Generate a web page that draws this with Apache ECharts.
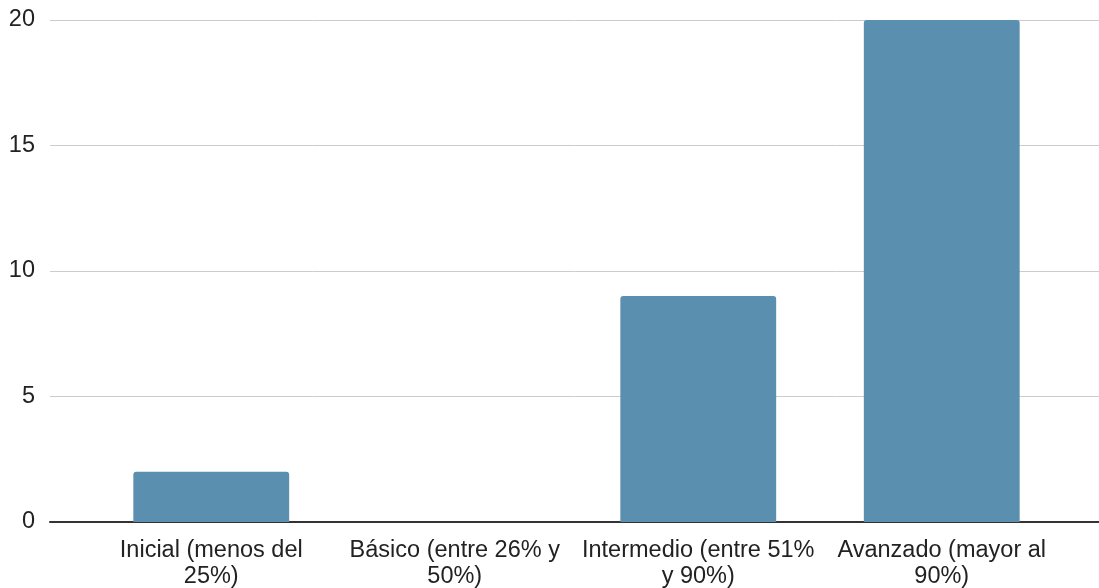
<!DOCTYPE html>
<html>
<head>
<meta charset="utf-8">
<script src="https://cdn.jsdelivr.net/npm/echarts@6/dist/echarts.min.js"></script>
<style>
  html, body { margin: 0; padding: 0; background: #fff; }
  #chart { width: 1099px; height: 588px; }
</style>
</head>
<body>
<div id="chart"></div>
<script>
const categories = [
  'Inicial (menos del\n25%)',
  'Básico (entre 26% y\n50%)',
  'Intermedio (entre 51%\ny 90%)',
  'Avanzado (mayor al\n90%)'
]
const values = [2, 0, 9, 20]
const yTicks = [0, 5, 10, 15, 20]

const chart = echarts.init(document.getElementById('chart'))
const font = 'Arial, "Liberation Sans", sans-serif'

chart.setOption({
  animation: false,
  grid: [
    // grid 0 carries the gridlines and the baseline across the full width
    { left: 50, right: 0, top: 20, bottom: 66, outerBoundsMode: 'none' },
    // grid 1 holds the bars, inset like the original
    { left: 89.5, right: 35.5, top: 20, bottom: 66, outerBoundsMode: 'none' }
  ],
  xAxis: [
    {
      gridIndex: 0,
      type: 'category',
      data: [''],
      axisLine: { show: true, lineStyle: { color: '#333333', width: 2 } },
      axisTick: { show: false },
      axisLabel: { show: false }
    },
    {
      gridIndex: 1,
      type: 'category',
      data: categories,
      axisLine: { show: false },
      axisTick: { show: false },
      axisLabel: {
        interval: 0,
        margin: 16,
        color: '#222222',
        fontSize: 23.5,
        fontFamily: font,
        lineHeight: 26,
        align: 'center'
      }
    }
  ],
  yAxis: [
    {
      gridIndex: 0,
      type: 'value',
      min: 0,
      max: yTicks[yTicks.length - 1],
      interval: 5,
      axisLine: { show: false },
      axisTick: { show: false },
      splitLine: { lineStyle: { color: '#cccccc', width: 1 } },
      axisLabel: {
        margin: 15,
        color: '#222222',
        fontSize: 23.5,
        fontFamily: font
      }
    },
    {
      gridIndex: 1,
      type: 'value',
      min: 0,
      max: yTicks[yTicks.length - 1],
      interval: 5,
      show: false,
      splitLine: { show: false }
    }
  ],
  series: [
    {
      type: 'bar',
      xAxisIndex: 1,
      yAxisIndex: 1,
      data: values,
      barWidth: '64%',
      itemStyle: {
        color: '#5b8fb0',
        borderRadius: [3, 3, 0, 0]
      }
    }
  ]
})
</script>
</body>
</html>
